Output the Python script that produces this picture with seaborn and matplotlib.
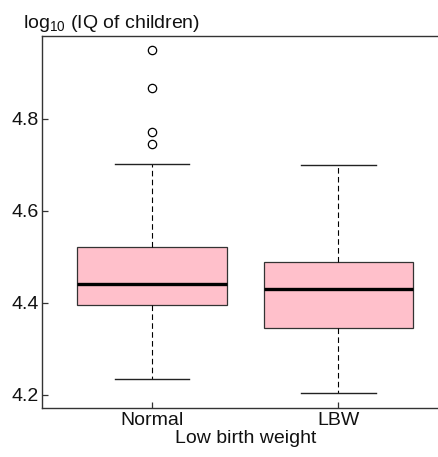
import matplotlib
matplotlib.use("Agg")
import matplotlib.pyplot as plt
import seaborn as sns
import pandas as pd

# ---- data ----
groups = ["Normal", "LBW"]
whisker_low = [4.234, 4.203]
q1 = [4.394, 4.344]
median = [4.441, 4.430]
q3 = [4.520, 4.489]
whisker_high = [4.701, 4.700]
outliers = [[4.744, 4.770, 4.867, 4.949], []]
y_ticks = [4.2, 4.4, 4.6, 4.8]
x_label = "Low birth weight"

# build samples whose quartiles/whiskers reproduce the five-number summaries
rows = []
for g, lo, a, m, b, hi, out in zip(groups, whisker_low, q1, median, q3, whisker_high, outliers):
    sample = [lo] + [a] * 5 + [m] * 5 + [b] * 5 + [hi] * (5 - len(out)) + list(out)
    rows += [(g, v) for v in sample]
df = pd.DataFrame(rows, columns=["group", "value"])

plt.rcParams["font.family"] = ["Liberation Sans", "DejaVu Sans"]
plt.rcParams["mathtext.fontset"] = "custom"
plt.rcParams["mathtext.rm"] = "Liberation Sans"

W, H = 438, 457
fig = plt.figure(figsize=(W / 100, H / 100), dpi=100)
left, right, top, bottom = 41.5, 449, 35.7, 407.7
ax = fig.add_axes([left / W, 1 - bottom / H, (right - left) / W, (bottom - top) / H])

edge = "#333333"
sns.boxplot(
    data=df, x="group", y="value", order=groups, ax=ax,
    color="#FFC0CB", saturation=1, width=0.8, whis=1.5,
    linecolor=edge, linewidth=0.9,
    medianprops={"color": "black", "linewidth": 2.4},
    whiskerprops={"color": "black", "linewidth": 0.8, "linestyle": (0, (5, 3))},
    capprops={"color": "#222222", "linewidth": 1.0},
    flierprops={"marker": "o", "markerfacecolor": "none", "markeredgecolor": "black",
                "markersize": 6, "markeredgewidth": 0.9},
)

ax.set_xlim(-0.593, 1.593)
ax.set_ylim(4.1717, 4.980)
ax.set_yticks(y_ticks)
ax.set_yticklabels([f"{t:.1f}" for t in y_ticks])
ax.tick_params(axis="both", direction="in", length=4, width=0.9, color=edge,
               labelsize=14, labelcolor="#111111")
ax.tick_params(axis="y", pad=2)
ax.tick_params(axis="x", pad=3)
ax.set_xlabel(x_label, fontsize=14, labelpad=1, color="#111111")
ax.set_ylabel("")
for s in ["left", "bottom", "top"]:
    ax.spines[s].set_linewidth(1.0)
    ax.spines[s].set_color(edge)
ax.spines["right"].set_visible(False)
ax.set_facecolor("white")

fig.text(23 / W, 1 - 28 / H, r"log$_{\mathregular{10}}$ (IQ of children)",
         fontsize=14, ha="left", va="baseline", color="#111111")

fig.savefig("out.png", dpi=100, facecolor="white")
